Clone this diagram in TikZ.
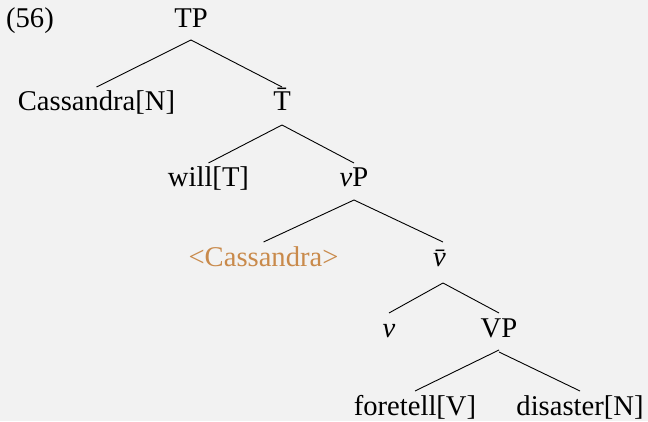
\documentclass[tikz,border=0pt]{standalone}
\usepackage{fontspec}
\setmainfont{LiberationSerif}[Extension=.ttf,UprightFont=*-Regular,ItalicFont=*-Italic,BoldFont=*-Bold]
\usetikzlibrary{calc}
\definecolor{bgc}{HTML}{F2F2F2}
\definecolor{trace}{HTML}{C98A4B}
\begin{document}
\begin{tikzpicture}[x=1pt,y=1pt,
  lbl/.style={anchor=base,inner sep=0pt,font=\fontsize{28.6}{34}\selectfont},
  branch/.style={line width=0.9pt,black}]
\fill[bgc] (0,0) rectangle (648,421);
\useasboundingbox (0,0) rectangle (648,421);

% example number
\node[lbl] (num) at (30,393) {(56)};

% tree labels (y = baseline)
\node[lbl] (tp)    at (191,393) {TP};
\node[lbl] (cas)   at (96.5,310) {Cassandra[N]};
\node[lbl] (tbar)  at (282,310) {\=T};
\node[lbl] (will)  at (208.5,234) {will[T]};
\node[lbl] (vp)    at (354,234) {\textit{v}P};
\node[lbl,text=trace] (trc) at (263.5,155) {<Cassandra>};
\node[lbl] (vbar)  at (443,155) {\textit{\=v}};
\node[lbl] (vh)    at (389,84) {\textit{v}};
\node[lbl] (vpb)   at (499,84) {VP};
\node[lbl] (fore)  at (415,6) {foretell[V]};
\node[lbl] (dis)   at (580,6) {disaster[N]};

% branches: from below the mother to above each daughter
\newcommand{\branchto}[3]{%
  \draw[branch] ($(#1.base)+(0,-#3)$) -- ($(#2.base)+(0,24)$);}
\branchto{tp}{cas}{12}
\branchto{tp}{tbar}{12}
\branchto{tbar}{will}{14}
\branchto{tbar}{vp}{14}
\branchto{vp}{trc}{13}
\branchto{vp}{vbar}{13}
\branchto{vbar}{vh}{17}
\branchto{vbar}{vpb}{17}
\branchto{vpb}{fore}{13}
\branchto{vpb}{dis}{15}
\end{tikzpicture}
\end{document}
